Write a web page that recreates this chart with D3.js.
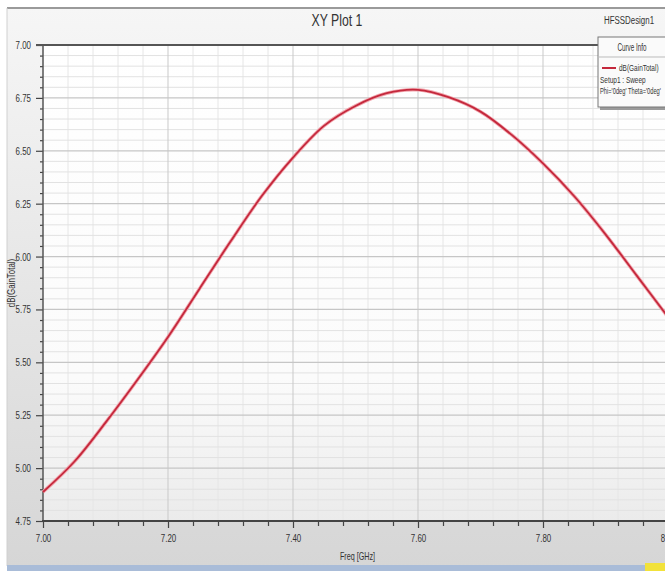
<!DOCTYPE html>
<html>
<head>
<meta charset="utf-8">
<script src="https://cdn.jsdelivr.net/npm/d3@7"></script>
<style>
  html, body { margin: 0; padding: 0; background: #fff; }
  svg { display: block; }
  text { font-family: "Liberation Sans", Arial, sans-serif; fill: #333; }
</style>
</head>
<body>
<svg id="chart" width="665" height="571"></svg>
<script>
// ---- data ----
const freqGHz = [7.00, 7.05, 7.10, 7.15, 7.20, 7.25, 7.30, 7.35, 7.40, 7.45, 7.50,
                 7.55, 7.60, 7.65, 7.70, 7.75, 7.80, 7.85, 7.90, 7.95, 8.00];
const gainTotalDb = [4.887, 5.030, 5.215, 5.413, 5.620, 5.846, 6.071, 6.286, 6.468, 6.619, 6.712,
                     6.772, 6.788, 6.752, 6.685, 6.575, 6.440, 6.285, 6.105, 5.910, 5.714];
const xTickValues = [7.00, 7.20, 7.40, 7.60, 7.80, 8.00];
const yTickValues = [4.75, 5.00, 5.25, 5.50, 5.75, 6.00, 6.25, 6.50, 6.75, 7.00];
const title = "XY Plot 1";
const designName = "HFSSDesign1";
const xTitle = "Freq [GHz]";
const yTitle = "dB(GainTotal)";
const legendLines = ["dB(GainTotal)", "Setup1 : Sweep", "Phi='0deg' Theta='0deg'"];

// ---- drawing ----
const svg = d3.select("#chart");
const W = 665, H = 571;
const plot = { left: 43, right: 668, top: 45, bottom: 521 };

const x = d3.scaleLinear().domain([7.0, 8.0]).range([plot.left, plot.right]);
const y = d3.scaleLinear().domain([4.75, 7.0]).range([plot.bottom, plot.top]);

const defs = svg.append("defs");
const g1 = defs.append("linearGradient").attr("id", "panelGrad").attr("x1", 0).attr("y1", 0).attr("x2", 0).attr("y2", 1);
g1.append("stop").attr("offset", "0%").attr("stop-color", "#f6f6f6");
g1.append("stop").attr("offset", "100%").attr("stop-color", "#d6d6d6");
const g2 = defs.append("linearGradient").attr("id", "plotGrad").attr("x1", 0).attr("y1", 0).attr("x2", 0).attr("y2", 1);
g2.append("stop").attr("offset", "0%").attr("stop-color", "#ffffff");
g2.append("stop").attr("offset", "70%").attr("stop-color", "#fbfbfb");
g2.append("stop").attr("offset", "100%").attr("stop-color", "#ebebeb");

// panel background
svg.append("rect").attr("x", 7).attr("y", 8).attr("width", W - 7).attr("height", 558).attr("fill", "url(#panelGrad)");
svg.append("line").attr("x1", 7).attr("x2", W).attr("y1", 8).attr("y2", 8).attr("stroke", "#9a9a9a").attr("stroke-width", 2);
svg.append("line").attr("x1", 7).attr("x2", 7).attr("y1", 8).attr("y2", 566).attr("stroke", "#d0d0d0").attr("stroke-width", 1);
svg.append("rect").attr("x", 7).attr("y", 565).attr("width", W - 7).attr("height", 6).attr("fill", "#a9bcd8");
svg.append("rect").attr("x", 645).attr("y", 563).attr("width", 20).attr("height", 8).attr("fill", "#f2e23a");

// plot area
svg.append("rect").attr("x", plot.left).attr("y", plot.top)
  .attr("width", plot.right - plot.left).attr("height", plot.bottom - plot.top).attr("fill", "url(#plotGrad)");

// minor grid
const xMinor = d3.range(0, 26).map(i => 7.0 + i * 0.04).filter(v => Math.abs(((v - 7.0) / 0.2) - Math.round((v - 7.0) / 0.2)) > 1e-6);
const yMinor = d3.range(0, 46).map(i => 4.75 + i * 0.05).filter(v => Math.abs(((v - 4.75) / 0.25) - Math.round((v - 4.75) / 0.25)) > 1e-6);

const grid = svg.append("g");
grid.selectAll(".vmin").data(xMinor).join("line")
  .attr("x1", d => x(d)).attr("x2", d => x(d)).attr("y1", plot.top).attr("y2", plot.bottom)
  .attr("stroke", "#e6e6e6").attr("stroke-width", 1);
grid.selectAll(".hmin").data(yMinor).join("line")
  .attr("x1", plot.left).attr("x2", plot.right).attr("y1", d => y(d)).attr("y2", d => y(d))
  .attr("stroke", "#e2e2e2").attr("stroke-width", 1);
grid.selectAll(".vmaj").data(xTickValues.slice(1)).join("line")
  .attr("x1", d => x(d)).attr("x2", d => x(d)).attr("y1", plot.top).attr("y2", plot.bottom)
  .attr("stroke", "#c9c9c9").attr("stroke-width", 1);
grid.selectAll(".hmaj").data(yTickValues.slice(1, -1)).join("line")
  .attr("x1", plot.left).attr("x2", plot.right).attr("y1", d => y(d)).attr("y2", d => y(d))
  .attr("stroke", "#c6c6c6").attr("stroke-width", 1.2);

// axes
const xAxis = d3.axisBottom(x).tickValues(xTickValues).tickSize(7).tickPadding(6).tickFormat(d3.format(".2f"));
const xAxisMinor = d3.axisBottom(x).tickValues(xMinor).tickSize(5).tickFormat("");
const yAxis = d3.axisLeft(y).tickValues(yTickValues).tickSize(7).tickPadding(5).tickFormat(d3.format(".2f"));
const yAxisMinor = d3.axisLeft(y).tickValues(yMinor).tickSize(3).tickFormat("");

function styleAxis(sel) {
  sel.select(".domain").remove();
  sel.selectAll(".tick line").attr("stroke", "#444").attr("stroke-width", 1.2);
  sel.selectAll(".tick text").attr("fill", "#333").style("font-size", "11px")
     .style("font-family", "'Liberation Sans', Arial, sans-serif");
}
svg.append("g").attr("transform", `translate(0,${plot.bottom})`).call(xAxisMinor).call(styleAxis);
svg.append("g").attr("transform", `translate(0,${plot.bottom})`).call(xAxis).call(styleAxis);
svg.append("g").attr("transform", `translate(${plot.left},0)`).call(yAxisMinor).call(styleAxis);
svg.append("g").attr("transform", `translate(${plot.left},0)`).call(yAxis).call(styleAxis);

// axis lines
svg.append("line").attr("x1", plot.left).attr("x2", plot.left).attr("y1", plot.top).attr("y2", plot.bottom)
  .attr("stroke", "#555").attr("stroke-width", 1.5);
svg.append("line").attr("x1", plot.left - 1).attr("x2", plot.right).attr("y1", plot.bottom).attr("y2", plot.bottom)
  .attr("stroke", "#444").attr("stroke-width", 2);
svg.append("line").attr("x1", plot.left - 7).attr("x2", plot.right).attr("y1", plot.top).attr("y2", plot.top)
  .attr("stroke", "#555").attr("stroke-width", 2);

// curve
const line = d3.line().x((d, i) => x(freqGHz[i])).y(d => y(d)).curve(d3.curveCatmullRom.alpha(0.5));
svg.append("path").datum(gainTotalDb).attr("d", line)
  .attr("fill", "none").attr("stroke", "#f2a6ae").attr("stroke-width", 3.5).attr("stroke-linejoin", "round");
svg.append("path").datum(gainTotalDb).attr("d", line)
  .attr("fill", "none").attr("stroke", "#c4283c").attr("stroke-width", 1.8).attr("stroke-linejoin", "round");

// titles
svg.append("text").attr("x", 337).attr("y", 26).attr("text-anchor", "middle")
  .style("font-size", "17px").attr("fill", "#222").text(title);
svg.append("text").attr("x", 629).attr("y", 24).attr("text-anchor", "middle")
  .style("font-size", "11px").attr("fill", "#222").text(designName);
svg.append("text").attr("x", (plot.left + plot.right) / 2 + 2).attr("y", 560).attr("text-anchor", "middle")
  .style("font-size", "10px").attr("fill", "#333").text(xTitle);
svg.append("text").attr("transform", `translate(15,${y(5.875)}) rotate(-90)`).attr("text-anchor", "middle")
  .style("font-size", "11px").attr("fill", "#333").text(yTitle);

// legend box
const lg = svg.append("g").attr("transform", "translate(598,37)");
lg.append("rect").attr("x", 2).attr("y", 2).attr("width", 80).attr("height", 71).attr("fill", "#9a9a9a");
lg.append("rect").attr("x", 0).attr("y", 0).attr("width", 80).attr("height", 70).attr("fill", "#fafafa").attr("stroke", "#777").attr("stroke-width", 1);
lg.append("line").attr("x1", 0).attr("x2", 80).attr("y1", 20).attr("y2", 20).attr("stroke", "#bbb");
lg.append("text").attr("x", 34).attr("y", 14).attr("text-anchor", "middle").style("font-size", "10px").attr("fill", "#333").text("Curve Info");
lg.append("line").attr("x1", 4).attr("x2", 18).attr("y1", 31).attr("y2", 31).attr("stroke", "#c4283c").attr("stroke-width", 2);
lg.append("text").attr("x", 21).attr("y", 34).style("font-size", "9px").attr("fill", "#222").text(legendLines[0]);
lg.append("text").attr("x", 2).attr("y", 46).style("font-size", "9px").attr("fill", "#222").text(legendLines[1]);
lg.append("text").attr("x", 2).attr("y", 57).style("font-size", "9px").attr("fill", "#222").text(legendLines[2]);

// condense all text (horizontal scale about its anchor) to mimic the narrow HFSS font
svg.selectAll("text").each(function () {
  const t = d3.select(this);
  if (!t.text()) return;
  const len = this.getComputedTextLength();
  let k = 0.72;
  if (this.parentNode === lg.node()) k = Math.min(k, (63 - (+t.attr("x"))) / len);
  const ax = +(t.attr("x") || 0);
  const prev = t.attr("transform") || "";
  t.attr("transform", `${prev} translate(${ax},0) scale(${k.toFixed(3)},1) translate(${-ax},0)`.trim());
});
</script>
</body>
</html>
